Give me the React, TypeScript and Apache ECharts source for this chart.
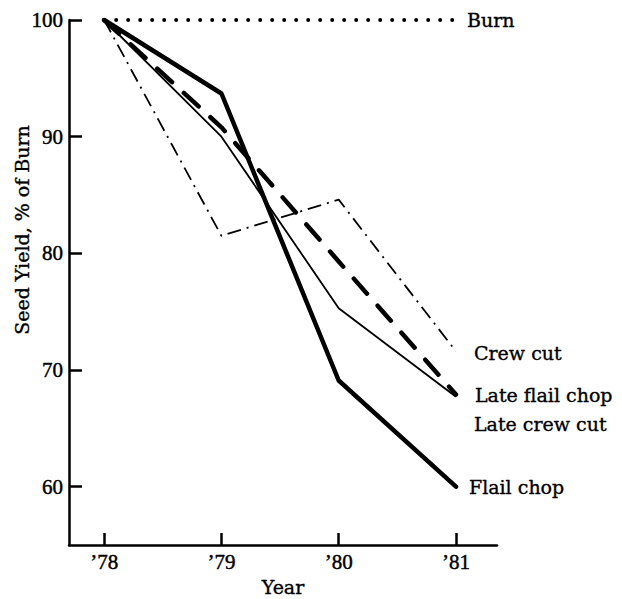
import React, { useEffect, useRef } from "react";
import * as echarts from "echarts";

const years = [78, 79, 80, 81];
const yTicks = [60, 70, 80, 90, 100];
const burn = [100, 100, 100, 100];
const crewCut = [100, 81.5, 84.6, 71.6];
const lateFlailChop = [100, 90.8, 79.3, 67.9];
const lateCrewCut = [100, 90.0, 75.3, 67.7];
const flailChop = [100, 93.7, 69.1, 60.0];

const NUM_FONT = "Liberation Serif";
const WORD_FONT = "DejaVu Serif";
const INK = "#000";
const Y_NAME = "Seed Yield, % of Burn";

const pairs = (vals: number[]) => years.map((y, i) => [y, vals[i]]);

const txt = (size: number, font: string = WORD_FONT, border = 0.35) => ({
  color: INK,
  fontFamily: font,
  fontSize: size,
  textBorderColor: INK,
  textBorderWidth: border,
});

export default function App() {
  const ref = useRef<HTMLDivElement>(null);
  useEffect(() => {
    document.body.style.margin = "0";
    const chart = echarts.init(ref.current!, undefined, { renderer: "svg" });
    const label = (dx: number, dy: number) => ({
      show: true,
      formatter: "{a}",
      distance: 0,
      offset: [dx, dy],
      ...txt(19),
    });
    chart.setOption({
      animation: false,
      backgroundColor: "#fff",
      grid: { left: 69, top: 20, right: 125, bottom: 54, containLabel: false, outerBoundsMode: "none" },
      graphic: [
        {
          type: "text",
          x: 22,
          y: 230,
          rotation: Math.PI / 2,
          style: {
            text: Y_NAME,
            fill: INK,
            stroke: INK,
            lineWidth: 0.35,
            font: `19px "${WORD_FONT}"`,
            textAlign: "center",
            textVerticalAlign: "middle",
          },
        },
      ],
      xAxis: {
        type: "value",
        min: 77.7,
        max: 81.35,
        name: "Year",
        nameLocation: "middle",
        nameGap: 27,
        nameTextStyle: txt(19),
        axisLine: { show: true, lineStyle: { color: INK, width: 2.5 } },
        axisTick: { show: true, inside: true, length: 12, lineStyle: { color: INK, width: 2.5 }, customValues: years },
        axisLabel: {
          ...txt(21, NUM_FONT, 0.45),
          margin: 6,
          customValues: years,
          formatter: (v: number) => "\u2019" + v,
        },
        splitLine: { show: false },
      },
      yAxis: {
        type: "value",
        min: 55,
        max: 100,
        axisLine: { show: true, lineStyle: { color: INK, width: 2.5 } },
        axisTick: { show: true, inside: true, length: 13, lineStyle: { color: INK, width: 2.5 }, customValues: yTicks },
        axisLabel: { ...txt(21, NUM_FONT, 0.45), margin: 6, customValues: yTicks },
        splitLine: { show: false },
      },
      series: [
        {
          name: "Burn",
          type: "line",
          data: pairs(burn),
          symbol: "none",
          lineStyle: { color: INK, width: 4, type: [0, 12], cap: "round" },
          endLabel: label(11, 0),
        },
        {
          name: "Crew cut",
          type: "line",
          data: pairs(crewCut),
          symbol: "none",
          lineStyle: { color: INK, width: 1.8, type: [14, 6, 2, 6] },
          endLabel: label(18, 2),
        },
        {
          name: "Late flail chop",
          type: "line",
          data: pairs(lateFlailChop),
          symbol: "none",
          lineStyle: { color: INK, width: 4.5, type: [20, 16], cap: "round" },
          endLabel: label(19, 0),
        },
        {
          name: "Late crew cut",
          type: "line",
          data: pairs(lateCrewCut),
          symbol: "none",
          lineStyle: { color: INK, width: 1.8 },
          endLabel: label(18, 27),
        },
        {
          name: "Flail chop",
          type: "line",
          data: pairs(flailChop),
          symbol: "none",
          lineStyle: { color: INK, width: 4.5, cap: "round", join: "round" },
          endLabel: label(13, 0),
        },
      ],
    });
    return () => chart.dispose();
  }, []);
  return <div ref={ref} style={{ width: 622, height: 599 }} />;
}
